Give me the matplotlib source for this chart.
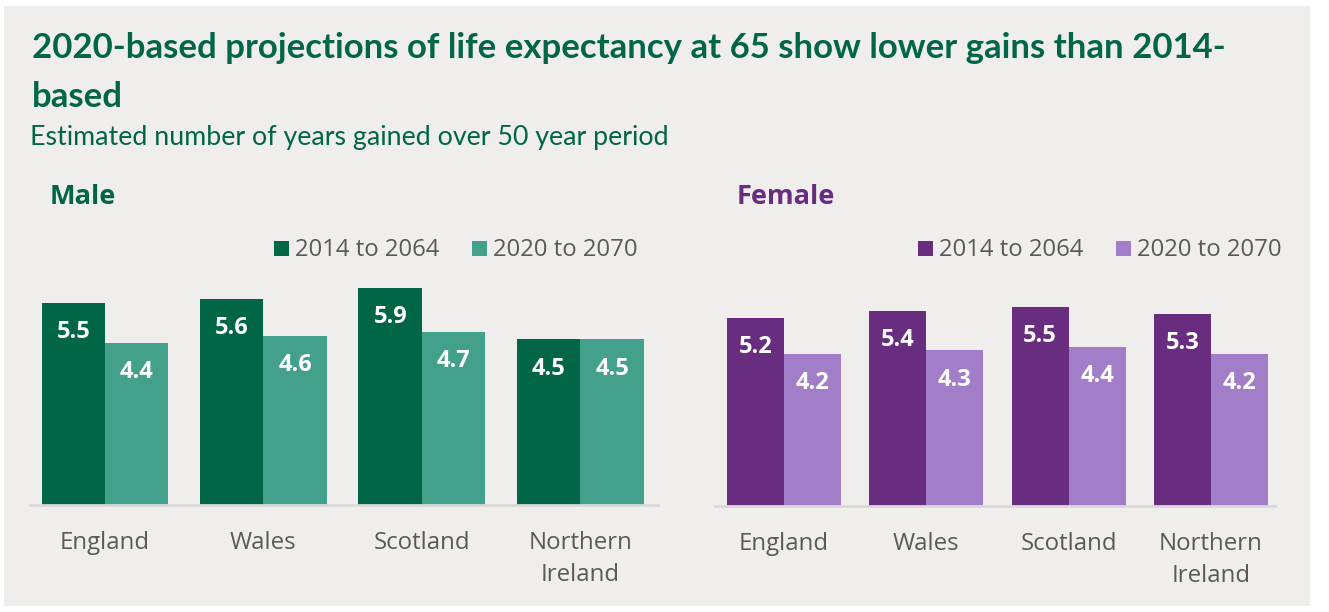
import matplotlib.pyplot as plt
import numpy as np
from matplotlib.patches import Rectangle

# Data: estimated years of life expectancy gained at 65 over 50 years
countries = ['England', 'Wales', 'Scotland', 'Northern\nIreland']
series = ['2014 to 2064', '2020 to 2070']
male_2014 = [5.5, 5.6, 5.9, 4.5]
male_2020 = [4.4, 4.6, 4.7, 4.5]
female_2014 = [5.2, 5.4, 5.5, 5.3]
female_2020 = [4.2, 4.3, 4.4, 4.2]

GREEN_DARK = '#006647'
GREEN_LIGHT = '#42A08B'
PURPLE_DARK = '#682D7E'
PURPLE_LIGHT = '#A37EC8'
BG = '#EFEEEC'
GREY_TEXT = '#595959'

W, H = 1329, 612
fig = plt.figure(figsize=(W / 100, H / 100), dpi=100)
fig.patch.set_facecolor('white')
fig.patches.append(Rectangle((4 / W, 1 - 606 / H), 1306 / W, 600 / H,
                             transform=fig.transFigure, facecolor=BG,
                             edgecolor='none', zorder=-10))


def fx(x):
    return x / W


def fy(y):
    return 1 - y / H


fig.text(fx(32), fy(48), '2020-based projections of life expectancy at 65 show lower gains than 2014-',
         family='Lato', weight='bold', fontsize=25, color=GREEN_DARK, va='center')
fig.text(fx(32), fy(97), 'based',
         family='Lato', weight='bold', fontsize=25, color=GREEN_DARK, va='center')
fig.text(fx(30), fy(138), 'Estimated number of years gained over 50 year period',
         family='Lato', fontsize=19.3, color=GREEN_DARK, va='center')


def panel(left, right, bottom, px_per_unit, xlim, vals_a, vals_b, c_a, c_b,
          label, label_x, label_color, leg_x):
    ymax = 7
    height = ymax * px_per_unit
    ax = fig.add_axes([fx(left), fy(bottom), fx(right - left), height / H])
    ax.set_facecolor('none')
    x = np.arange(len(countries))
    w = 0.4
    bars_a = ax.bar(x - w / 2, vals_a, w, color=c_a, label=series[0])
    bars_b = ax.bar(x + w / 2, vals_b, w, color=c_b, label=series[1])
    for bars in (bars_a, bars_b):
        for b in bars:
            ax.annotate(f'{b.get_height():.1f}',
                        (b.get_x() + b.get_width() / 2, b.get_height()),
                        xytext=(0, -21), textcoords='offset points',
                        ha='center', va='center', color='white',
                        family='Open Sans', weight='bold', fontsize=17)
    ax.set_xlim(*xlim)
    ax.set_ylim(0, ymax)
    ax.set_yticks([])
    ax.set_xticks(x)
    ax.set_xticklabels(countries, family='Open Sans', fontsize=17.3,
                       color=GREY_TEXT, linespacing=1.45)
    ax.tick_params(axis='x', length=0, pad=19)
    for s in ('top', 'left', 'right'):
        ax.spines[s].set_visible(False)
    ax.spines['bottom'].set_color('#D9D9D9')
    ax.spines['bottom'].set_linewidth(2)

    fig.text(fx(label_x), fy(197), label, family='Open Sans', weight='bold',
             fontsize=19.5, color=label_color, va='center')

    # legend drawn as squares and text
    for i, (name, c) in enumerate(zip(series, (c_a, c_b))):
        lx = leg_x + i * 198
        fig.patches.append(Rectangle((fx(lx), fy(256)), 15 / W, 15 / H,
                                     transform=fig.transFigure, facecolor=c,
                                     edgecolor='none'))
        fig.text(fx(lx + 21), fy(250), name, family='Open Sans', fontsize=17.2,
                 color=GREY_TEXT, va='center')
    return ax


panel(30, 658, 505, 36.8, (-0.473, 3.49), male_2014, male_2020,
      GREEN_DARK, GREEN_LIGHT, 'Male', 50, GREEN_DARK, 274)
panel(715, 1275, 506, 36.2, (-0.485, 3.45), female_2014, female_2020,
      PURPLE_DARK, PURPLE_LIGHT, 'Female', 737, PURPLE_DARK, 918)

fig.savefig('out.png', dpi=100, facecolor=fig.get_facecolor())
